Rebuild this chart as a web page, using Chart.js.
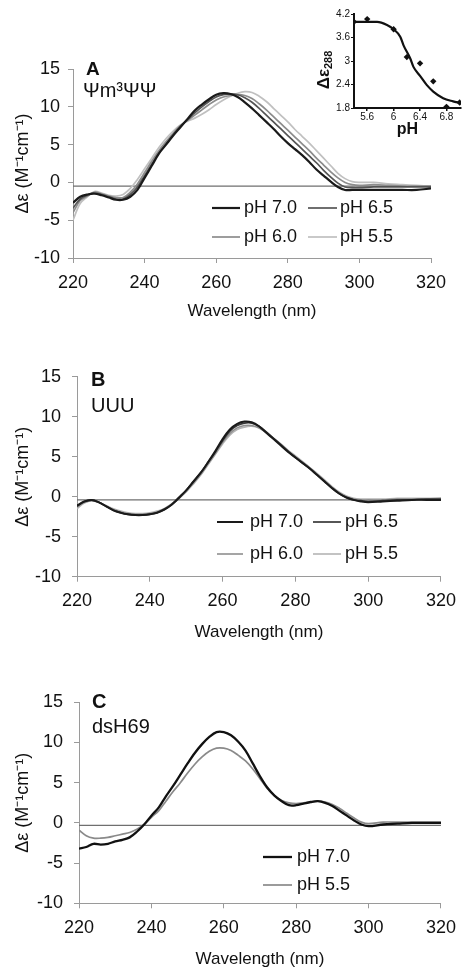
<!DOCTYPE html>
<html><head><meta charset="utf-8">
<script src="https://cdn.jsdelivr.net/npm/chart.js@4/dist/chart.umd.min.js"></script>
<style>
html,body{margin:0;padding:0;background:#fff;}
#wrap{position:relative;width:465px;height:970px;overflow:hidden;background:#fff;}
canvas{position:absolute;}
</style></head><body>
<div id="wrap">
<canvas id="cA" width="465" height="322" style="left:0;top:0"></canvas>
<canvas id="cB" width="465" height="322" style="left:0;top:322px"></canvas>
<canvas id="cC" width="465" height="326" style="left:0;top:644px"></canvas>
<canvas id="cI" width="165" height="140" style="left:300px;top:0"></canvas>
</div>
<script>
// ---------- DATA ----------
const wavelengths = [220,222,224,226,228,230,232,234,236,238,240,242,244,246,248,250,252,254,256,258,260,262,264,266,268,270,272,274,276,278,280,282,284,286,288,290,292,294,296,298,300,304,308,312,316,320];
const xTickValues = [220,240,260,280,300,320];
const yTickValues = [-10,-5,0,5,10,15];

// Panel A: Ψm3ΨΨ
const labelsA = ['pH 7.0','pH 6.5','pH 6.0','pH 5.5'];
const A_pH70 = [-2.7,-1.9,-1.6,-1.5,-1.7,-2.0,-2.3,-2.3,-1.9,-1.0, 0.6,2.2,3.8,5.0,6.2,7.3,8.4,9.5,10.3,11.0, 11.6,11.8,11.7,11.3,10.6,9.8,8.9,8.0,7.1,6.1, 5.2,4.4,3.6,2.7,1.7,0.9,0.1,-0.6,-1.0,-1.0, -1.0,-1.0,-1.0,-1.0,-1.0,-0.8];
const A_pH65 = [-3.4,-2.2,-1.7,-1.4,-1.6,-1.9,-2.2,-2.2,-1.6,-0.6, 0.9,2.4,3.9,5.1,6.3,7.4,8.3,9.2,10.0,10.7, 11.3,11.6,11.7,11.6,11.2,10.6,9.8,8.9,8.0,7.1, 6.2,5.3,4.4,3.5,2.6,1.6,0.7,-0.1,-0.6,-0.7, -0.7,-0.6,-0.6,-0.6,-0.6,-0.6];
const A_pH60 = [-4.0,-2.4,-1.8,-1.3,-1.5,-1.8,-2.0,-2.0,-1.3,-0.2, 1.3,2.8,4.2,5.4,6.5,7.5,8.2,8.9,9.6,10.3, 10.9,11.3,11.5,11.6,11.5,11.1,10.4,9.6,8.7,7.8, 6.9,6.0,5.1,4.2,3.2,2.3,1.4,0.6,0.0,-0.3, -0.4,-0.3,-0.4,-0.5,-0.5,-0.5];
const A_pH55 = [-5.0,-2.8,-1.9,-1.2,-1.4,-1.7,-1.8,-1.6,-0.8,0.4, 1.8,3.2,4.6,5.8,6.8,7.6,8.1,8.5,9.0,9.6, 10.3,10.9,11.4,11.8,12.0,11.9,11.4,10.7,9.8,8.9, 8.0,7.0,6.1,5.2,4.2,3.2,2.2,1.2,0.5,0.1, 0.0,0.0,-0.2,-0.3,-0.4,-0.5];
const baselineA = -0.5;

// Panel B: UUU
const labelsB = ['pH 7.0','pH 6.5','pH 6.0','pH 5.5'];
const B_pH70 = [-1.1,-0.6,-0.4,-0.7,-1.2,-1.7,-2.0,-2.2,-2.3,-2.3, -2.2,-2.0,-1.6,-1.0,-0.1,0.8,1.9,3.0,4.3,5.7, 7.2,8.4,9.1,9.4,9.3,8.8,8.0,7.2,6.4,5.6, 4.9,4.2,3.5,2.7,1.9,1.1,0.4,-0.1,-0.4,-0.6, -0.7,-0.6,-0.5,-0.4,-0.4,-0.4];
const B_pH65 = [-1.2,-0.6,-0.4,-0.7,-1.2,-1.7,-2.0,-2.2,-2.3,-2.3, -2.2,-2.0,-1.6,-1.0,-0.2,0.8,1.9,3.0,4.3,5.6, 7.0,8.2,8.9,9.2,9.2,8.8,8.1,7.3,6.5,5.7, 4.9,4.2,3.5,2.7,1.9,1.1,0.4,-0.1,-0.4,-0.5, -0.6,-0.5,-0.4,-0.4,-0.3,-0.3];
const B_pH60 = [-1.3,-0.7,-0.5,-0.7,-1.2,-1.6,-1.9,-2.1,-2.2,-2.2, -2.1,-1.9,-1.5,-0.9,-0.2,0.7,1.7,2.8,4.1,5.4, 6.8,7.9,8.6,8.9,8.9,8.6,8.0,7.3,6.5,5.7, 5.0,4.3,3.6,2.8,2.0,1.2,0.5,0.0,-0.3,-0.4, -0.4,-0.4,-0.3,-0.3,-0.3,-0.2];
const B_pH55 = [-1.5,-0.8,-0.5,-0.7,-1.1,-1.5,-1.8,-2.0,-2.1,-2.1, -2.0,-1.8,-1.5,-0.9,-0.2,0.6,1.6,2.7,4.0,5.3, 6.6,7.7,8.4,8.7,8.8,8.6,8.0,7.3,6.6,5.8, 5.1,4.4,3.6,2.9,2.1,1.3,0.6,0.1,-0.2,-0.3, -0.3,-0.3,-0.2,-0.2,-0.2,-0.2];
const baselineB = -0.4;

// Panel C: dsH69
const labelsC = ['pH 7.0','pH 5.5'];
const C_pH70 = [-3.2,-3.0,-2.6,-2.7,-2.6,-2.3,-2.1,-1.8,-1.1,-0.2, 0.9,1.9,3.3,4.6,6.0,7.4,8.7,9.8,10.7,11.3, 11.3,10.9,10.1,9.0,7.4,5.8,4.4,3.4,2.7,2.2, 2.2,2.4,2.6,2.7,2.5,2.1,1.5,0.9,0.3,-0.2, -0.4,-0.2,-0.1,0.0,0.0,0.0];
const C_pH55 = [-0.9,-1.6,-1.9,-1.9,-1.8,-1.6,-1.4,-1.2,-0.8,-0.2, 0.7,1.5,2.7,3.9,5.0,6.2,7.3,8.2,8.9,9.3, 9.3,9.0,8.4,7.7,6.7,5.5,4.3,3.4,2.8,2.5, 2.4,2.5,2.6,2.7,2.6,2.3,1.8,1.2,0.6,0.1, -0.1,0.1,0.1,0.1,0.1,0.1];
const baselineC = -0.3;

// Inset: Δε288 vs pH
const insetPH = [5.4,5.6,6.0,6.2,6.4,6.6,6.8,7.0];
const insetDeps = [4.0,4.07,3.81,3.10,2.94,2.48,1.83,1.94];
const fitPH = [5.4,5.75,5.9,6.0,6.1,6.15,6.25,6.3,6.4,6.5,6.6,6.75,6.9,7.0];
const fitDeps = [4.0,4.0,3.92,3.81,3.62,3.40,3.07,2.85,2.62,2.39,2.22,2.05,1.97,1.93];
const insetXTicks = [5.6,6,6.4,6.8];
const insetYTicks = [1.8,2.4,3,3.6,4.2];

// ---------- HELPERS ----------
const F = "'Liberation Sans', Arial, Helvetica, sans-serif";
const AX = '#9a9a9a';
const pts = (xs, ys) => xs.map((x,i)=>({x:x, y:ys[i]}));
const flat = (v) => [{x:220,y:v},{x:320,y:v}];
const setTicks = (arr) => (s) => { s.ticks = arr.map(v=>({value:v})); };

const decorPlugin = {
  id:'decor',
  afterDraw(chart, args, o){
    const ctx = chart.ctx;
    ctx.save();
    ctx.textBaseline = 'middle';
    ctx.textAlign = 'left';
    (o.texts||[]).forEach(t=>{ ctx.font = t.font; ctx.fillStyle = '#111'; ctx.fillText(t.text, t.x, t.y); });
    (o.legend||[]).forEach(l=>{
      const ds = chart.data.datasets[l.i];
      ctx.strokeStyle = ds.borderColor; ctx.lineWidth = ds.borderWidth;
      ctx.beginPath(); ctx.moveTo(l.x0, l.y); ctx.lineTo(l.x1, l.y); ctx.stroke();
      ctx.font = o.legendFont; ctx.fillStyle = '#111';
      ctx.fillText(ds.label, l.tx, l.y);
    });
    if (o.subTitle) {
      const s = o.subTitle;
      ctx.translate(s.x, s.y); ctx.rotate(-Math.PI/2);
      ctx.font = s.mainFont; const w1 = ctx.measureText(s.main).width;
      ctx.font = s.subFont; const w2 = ctx.measureText(s.sub).width;
      const start = -(w1+w2)/2;
      ctx.fillStyle = '#111';
      ctx.font = s.mainFont; ctx.fillText(s.main, start, 0);
      ctx.font = s.subFont; ctx.fillText(s.sub, start + w1, s.subOff);
    }
    ctx.restore();
  }
};

function panel(id, W, H, area, datasets, decor, yPad, xTitleBottom){
  const padL = 8;
  return new Chart(document.getElementById(id), {
    type:'line',
    data:{ datasets: datasets },
    options:{
      responsive:false, animation:false, devicePixelRatio:1,
      layout:{padding:{left:padL, top:area.top, right:W-area.right, bottom:0}},
      elements:{point:{radius:0}, line:{tension:0.35}},
      plugins:{legend:{display:false}, tooltip:{enabled:false}, decor:decor},
      scales:{
        x:{type:'linear', min:220, max:320,
           afterBuildTicks: setTicks(xTickValues),
           afterFit: s=>{ s.height = H - area.bottom; },
           grid:{drawOnChartArea:false, drawTicks:true, tickLength:5, color:AX},
           border:{color:AX, width:1},
           ticks:{font:{family:F, size:18}, color:'#111', padding:9, maxRotation:0, autoSkip:false},
           title:{display:true, text:'Wavelength (nm)', font:{family:F, size:17}, color:'#111', padding:{top:0, bottom:xTitleBottom}}},
        y:{type:'linear', min:-10, max:15,
           afterBuildTicks: setTicks(yTickValues),
           afterFit: s=>{ s.width = area.left - padL; },
           grid:{drawOnChartArea:false, drawTicks:true, tickLength:5, color:AX},
           border:{color:AX, width:1},
           ticks:{font:{family:F, size:18}, color:'#111', padding:yPad},
           title:{display:true, text:'Δε (M⁻¹cm⁻¹)', font:{family:F, size:18}, color:'#111', padding:{top:4, bottom:0}}}
      }
    },
    plugins:[decorPlugin]
  });
}

function line(label, ys, color, width){
  return {label:label, data:pts(wavelengths, ys), borderColor:color, borderWidth:width, pointRadius:0, fill:false};
}
function base(v){
  return {label:'baseline', data:flat(v), borderColor:'#6f6f6f', borderWidth:1.2, pointRadius:0, tension:0};
}

// ---------- PANEL A ----------
panel('cA', 465, 322, {left:73, right:431, top:69, bottom:258}, [
  line(labelsA[0], A_pH70, '#1a1a1a', 2.2),
  line(labelsA[1], A_pH65, '#555555', 1.7),
  line(labelsA[2], A_pH60, '#8c8c8c', 1.7),
  line(labelsA[3], A_pH55, '#c0c0c0', 1.7),
  base(baselineA)
], {
  legendFont: '18px ' + F,
  legend:[
    {i:0, x0:212, x1:240, tx:244, y:208},
    {i:1, x0:308, x1:337, tx:340, y:208},
    {i:2, x0:212, x1:240, tx:244, y:237},
    {i:3, x0:308, x1:337, tx:340, y:237}
  ],
  texts:[
    {text:'A', x:86, y:70, font:'bold 19px ' + F},
    {text:'Ψm³ΨΨ', x:83, y:91, font:'20px ' + F}
  ]
}, 8, 0);

// ---------- PANEL B ----------
panel('cB', 465, 322, {left:77, right:447, top:54.7, bottom:254.7}, [
  line(labelsB[0], B_pH70, '#1a1a1a', 2.0),
  line(labelsB[1], B_pH65, '#383838', 1.7),
  line(labelsB[2], B_pH60, '#8f8f8f', 1.6),
  line(labelsB[3], B_pH55, '#b5b5b5', 1.6),
  base(baselineB)
], {
  legendFont: '18px ' + F,
  legend:[
    {i:0, x0:217, x1:243, tx:250, y:200},
    {i:1, x0:313, x1:341, tx:345, y:200},
    {i:2, x0:217, x1:243, tx:250, y:232},
    {i:3, x0:313, x1:341, tx:345, y:232}
  ],
  texts:[
    {text:'B', x:91, y:58, font:'bold 20px ' + F},
    {text:'UUU', x:91, y:84, font:'20px ' + F}
  ]
}, 11, 1);

// ---------- PANEL C ----------
panel('cC', 465, 326, {left:79, right:448, top:58.3, bottom:259.3}, [
  line(labelsC[0], C_pH70, '#111111', 2.3),
  line(labelsC[1], C_pH55, '#8a8a8a', 1.7),
  base(baselineC)
], {
  legendFont: '18px ' + F,
  legend:[
    {i:0, x0:263, x1:292, tx:297, y:213},
    {i:1, x0:263, x1:292, tx:297, y:241}
  ],
  texts:[
    {text:'C', x:92, y:58, font:'bold 20px ' + F},
    {text:'dsH69', x:92, y:83, font:'20px ' + F}
  ]
}, 11, 0);

// ---------- INSET ----------
new Chart(document.getElementById('cI'), {
  type:'line',
  data:{ datasets:[
    {label:'fit', data:pts(fitPH, fitDeps), borderColor:'#111', borderWidth:2.2, pointRadius:0, cubicInterpolationMode:'monotone', fill:false},
    {label:'Δε288', data:pts(insetPH, insetDeps), showLine:false, pointStyle:'rectRot', pointRadius:3.2, backgroundColor:'#111', borderColor:'#111', borderWidth:0}
  ]},
  options:{
    responsive:false, animation:false, devicePixelRatio:1,
    layout:{padding:{left:0, top:14, right:3, bottom:0}},
    plugins:{legend:{display:false}, tooltip:{enabled:false}, decor:{
      subTitle:{x:24, y:70, main:'Δε', sub:'288', mainFont:'bold 17px ' + F, subFont:'bold 11px ' + F, subOff:5}
    }},
    scales:{
      x:{type:'linear', min:5.4, max:7.02,
         afterBuildTicks: setTicks(insetXTicks),
         afterFit: s=>{ s.height = 32; },
         grid:{drawOnChartArea:false, drawTicks:true, tickLength:3, color:'#111', lineWidth:1.5},
         border:{color:'#111', width:2},
         ticks:{font:{family:F, size:10}, color:'#111', padding:0, maxRotation:0, autoSkip:false,
                callback:v=>String(+(+v).toFixed(1))},
         title:{display:true, text:'pH', font:{family:F, size:16, weight:'bold'}, color:'#111', padding:{top:0, bottom:1}}},
      y:{type:'linear', min:1.8, max:4.2,
         afterBuildTicks: setTicks(insetYTicks),
         afterFit: s=>{ s.width = 54; },
         grid:{drawOnChartArea:false, drawTicks:true, tickLength:3, color:'#111'},
         border:{color:'#111', width:2},
         ticks:{font:{family:F, size:10}, color:'#111', padding:1,
                callback:v=>String(+(+v).toFixed(1))}}
    }
  },
  plugins:[decorPlugin]
});
</script>
</body></html>
